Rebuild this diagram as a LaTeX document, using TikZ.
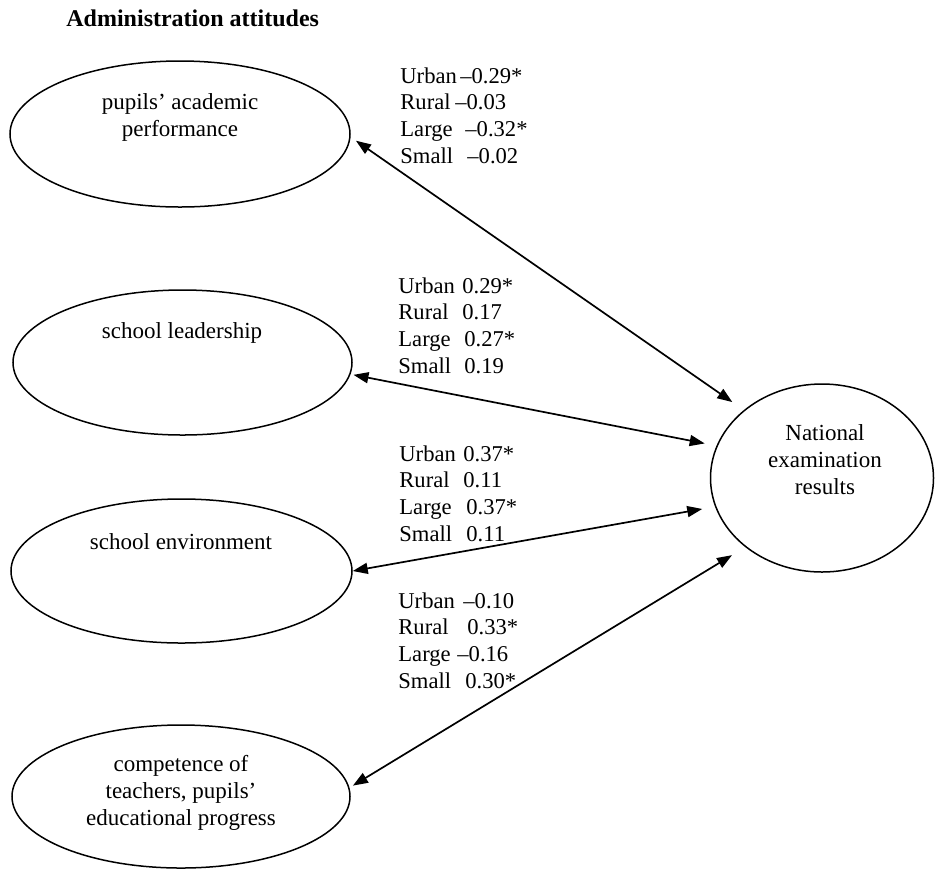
\documentclass[tikz,border=0pt]{standalone}
\usepackage{fontspec}
\setmainfont{Liberation Serif}
\usetikzlibrary{arrows.meta,shapes.geometric}

% one coefficient row: group word in a fixed-width box, then the value
\newcommand\coefrow[3]{\makebox[#1pt][l]{#2}#3}

\tikzset{
  factor/.style={ellipse, draw, line width=0.75pt, inner sep=0pt},
  caption/.style={align=center, inner sep=0pt, font=\fontsize{11.5}{13.5}\selectfont},
  coef/.style={align=left, anchor=north west, inner sep=0pt, font=\fontsize{11.3}{13.4}\selectfont},
  link/.style={{Triangle[length=7.5pt,width=5.5pt]}-{Triangle[length=7.5pt,width=5.5pt]}, line width=0.85pt},
}

\begin{document}
\begin{tikzpicture}[x=0.5pt,y=-0.5pt]
  \useasboundingbox (0,0) rectangle (935,869);

  % heading
  \node[anchor=west, inner sep=0pt, font=\bfseries\fontsize{12}{14}\selectfont] (title) at (66,18) {Administration attitudes};

  % attitude factors (left) and outcome (right)
  \node[factor, minimum width=170pt, minimum height=73pt] (e1) at (180,134) {};
  \node[factor, minimum width=169.5pt, minimum height=72.5pt] (e2) at (182.5,362.5) {};
  \node[factor, minimum width=170.5pt, minimum height=72pt] (e3) at (181.5,571) {};
  \node[factor, minimum width=169pt, minimum height=71.5pt] (e4) at (181,796.5) {};
  \node[factor, minimum width=111.5pt, minimum height=94pt] (nat) at (822,478) {};

  \node[caption] (t1) at (180,117) {pupils’ academic\\performance};
  \node[caption] (t2) at (182,333) {school leadership};
  \node[caption] (t3) at (181,542) {school environment};
  \node[caption] (t4) at (181,793) {competence of\\teachers, pupils’\\educational progress};
  \node[caption] (tn) at (825,460) {National\\examination\\results};

  % correlations by school location and size
  \node[coef] (c1) at (400,67) {\coefrow{30}{Urban}{–0.29*}\\\coefrow{27.5}{Rural}{–0.03}\\\coefrow{32.5}{Large}{–0.32*}\\\coefrow{33.5}{Small}{–0.02}};
  \node[coef] (c2) at (398,277) {\coefrow{32}{Urban}{0.29*}\\\coefrow{32}{Rural}{0.17}\\\coefrow{33}{Large}{0.27*}\\\coefrow{33}{Small}{0.19}};
  \node[coef] (c3) at (399,445) {\coefrow{32}{Urban}{0.37*}\\\coefrow{32}{Rural}{0.11}\\\coefrow{33.5}{Large}{0.37*}\\\coefrow{33.5}{Small}{0.11}};
  \node[coef] (c4) at (398,592) {\coefrow{32.5}{Urban}{–0.10}\\\coefrow{34.5}{Rural}{0.33*}\\\coefrow{29.5}{Large}{–0.16}\\\coefrow{33.5}{Small}{0.30*}};

  % two-way links to the outcome
  \draw[link, shorten <=3.25pt, shorten >=7pt] (e1.-1.8) -- (nat.139.7);
  \draw[link, shorten <=1.5pt, shorten >=6pt] (e2.-4.5) -- (nat.163.3);
  \draw[link, shorten >=6.5pt] (e3.0) -- (nat.195.6);
  \draw[link, shorten <=2pt, shorten >=7.75pt] (e4.3.85) -- (nat.222.2);
\end{tikzpicture}
\end{document}
